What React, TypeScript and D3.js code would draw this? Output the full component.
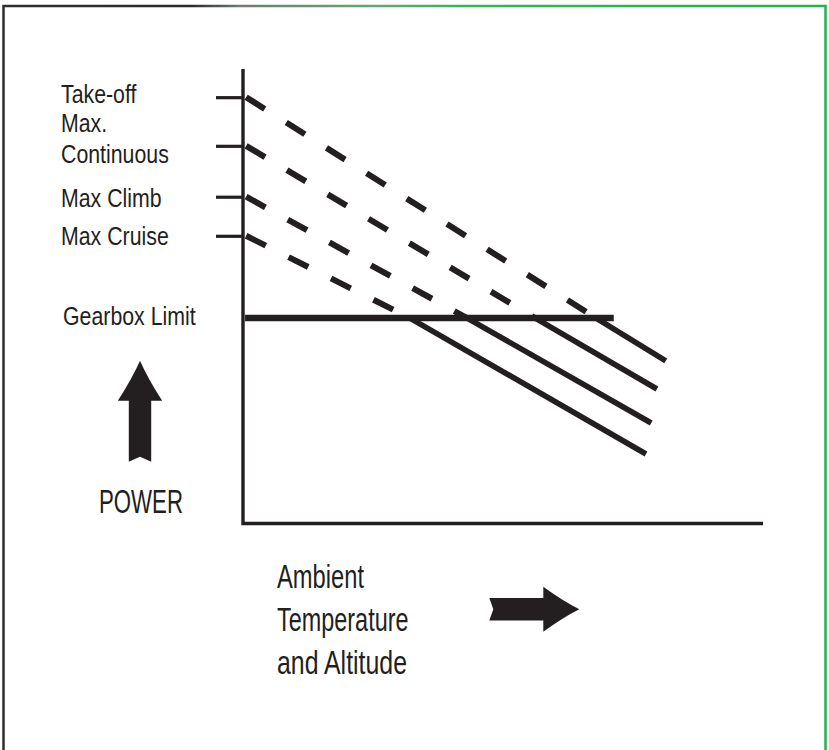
import React, { useEffect, useRef } from "react";
import * as d3 from "d3";

// ratings drawn against the power axis (x = ambient temp / altitude, y = power, both 0-100)
const ratings = ["Take-off", "Max. Continuous", "Max Climb", "Max Cruise"];
const ratingStartTemp = [0.6, 0.6, 0.6, 0.6];
const ratingStartPower = [93.8, 83.1, 71.9, 63.3];
// where each rating meets the gearbox limit
const ratingCrossTemp = [67.9, 56.2, 43.1, 32.1];
const ratingEndTemp = [81.3, 79.6, 78.5, 77.5];
const ratingEndPower = [35.8, 29.6, 22.1, 15.3];

const gearboxLabel = "Gearbox Limit";
const gearboxPower = 45.2;
const gearboxTemp = [0.4, 71.3];

const yTitle = "POWER";
const xTitle = ["Ambient", "Temperature", "and Altitude"];

const width = 829;
const height = 750;
const margin = { top: 69, right: 66, bottom: 226.5, left: 243 };
const ink = "#231f20";
// no narrow face installed, so Liberation Sans gets squeezed horizontally
const font = "'Liberation Sans', Arial, sans-serif";
const squeeze = 0.82;

// block arrow pointing to +x, tail at 0
function arrowPath(len: number, shaft: number, headW: number, headL: number, notch: number) {
    const p = d3.path();
    const base = len - headL;
    p.moveTo(0, -shaft / 2);
    p.lineTo(base, -shaft / 2);
    p.lineTo(base, -headW / 2);
    p.quadraticCurveTo(base + headL * 0.55, -headW * 0.18, len, 0);
    p.quadraticCurveTo(base + headL * 0.55, headW * 0.18, base, headW / 2);
    p.lineTo(base, shaft / 2);
    p.lineTo(0, shaft / 2);
    p.lineTo(notch, 0);
    p.closePath();
    return p.toString();
}

export default function App() {
    const svgRef = useRef<SVGSVGElement>(null);

    useEffect(() => {
        const svg = d3.select(svgRef.current);
        svg.selectAll("*").remove();

        const x = d3.scaleLinear().domain([0, 100]).range([margin.left, width - margin.right]);
        const y = d3.scaleLinear().domain([0, 100]).range([height - margin.bottom, margin.top]);

        // frame, dark on the left fading to green on the right
        const grad = svg.append("defs").append("linearGradient")
            .attr("id", "frameGrad")
            .attr("gradientUnits", "userSpaceOnUse")
            .attr("x1", 0).attr("x2", width).attr("y1", 0).attr("y2", 0);
        [[0, "#2e2e2e"], [0.23, "#2b2b2b"], [0.29, "#6f7b72"], [0.45, "#64a874"], [0.56, "#34b556"], [1, "#22b24c"]]
            .forEach(([o, c]) => grad.append("stop").attr("offset", o).attr("stop-color", c));

        svg.append("path")
            .attr("d", `M3.5,${height + 5} V6 H825.5 V${height + 5}`)
            .attr("fill", "none")
            .attr("stroke", "url(#frameGrad)")
            .attr("stroke-width", 2.5);

        const rows = ratings.map((name, i) => ({
            name,
            start: [ratingStartTemp[i], ratingStartPower[i]],
            cross: [ratingCrossTemp[i], gearboxPower],
            end: [ratingEndTemp[i], ratingEndPower[i]],
        }));
        const line = d3.line<number[]>().x(d => x(d[0])).y(d => y(d[1]));

        // axes
        svg.append("path")
            .attr("d", `M${x(0)},${y(100)} V${y(0)} H${x(100)}`)
            .attr("fill", "none")
            .attr("stroke", ink)
            .attr("stroke-width", 3.4)
            .attr("stroke-linejoin", "miter");

        svg.append("g")
            .attr("transform", `translate(${x(0) - 1},0)`)
            .call(d3.axisLeft(y).tickValues(ratingStartPower).tickSize(26).tickFormat(() => ""))
            .call(g => g.select(".domain").remove())
            .call(g => g.selectAll(".tick line").attr("stroke", ink).attr("stroke-width", 3.2));

        // thermodynamic limits above the gearbox limit
        svg.append("g")
            .selectAll("path")
            .data(rows)
            .join("path")
            .attr("d", d => line([d.start, d.cross]))
            .attr("fill", "none")
            .attr("stroke", ink)
            .attr("stroke-width", 6)
            .attr("stroke-dasharray", "22 25.5");

        // below the gearbox limit
        svg.append("g")
            .selectAll("path")
            .data(rows)
            .join("path")
            .attr("d", d => line([d.cross, d.end]))
            .attr("fill", "none")
            .attr("stroke", ink)
            .attr("stroke-width", 5.6);

        svg.append("path")
            .attr("d", line([[gearboxTemp[0], gearboxPower], [gearboxTemp[1], gearboxPower]]))
            .attr("stroke", ink)
            .attr("stroke-width", 6.4);

        // rating labels
        const labelShift = [6, 17.2, 10, 9.3];
        const labels = svg.append("g")
            .attr("font-family", font)
            .attr("font-size", 26)
            .attr("fill", ink);
        const addLabel = (t: string, lx: number, ly: number) =>
            labels.append("text")
                .attr("transform", `translate(${lx},${ly}) scale(${squeeze},1)`)
                .text(t);
        rows.forEach((d, i) => {
            const parts = d.name === "Max. Continuous" ? ["Max.", "Continuous"] : [d.name];
            const base = y(d.start[1]) + labelShift[i];
            parts.forEach((t, j) => addLabel(t, 61, base - (parts.length - 1 - j) * 30.6));
        });
        addLabel(gearboxLabel, 63, y(gearboxPower) + 7);

        // power arrow and title
        svg.append("path")
            .attr("transform", "translate(140,461.7) rotate(-90)")
            .attr("d", arrowPath(101, 22.4, 44.4, 40, 5))
            .attr("fill", ink);
        svg.append("text")
            .attr("x", 99)
            .attr("y", 512.7)
            .attr("font-family", font)
            .attr("font-size", 33)
            .attr("textLength", 84)
            .attr("lengthAdjust", "spacingAndGlyphs")
            .attr("fill", ink)
            .text(yTitle);

        // ambient temperature / altitude title and arrow
        const xLens = [87, 131.5, 130];
        svg.append("g")
            .attr("font-family", font)
            .attr("font-size", 32.5)
            .attr("fill", ink)
            .selectAll("text")
            .data(xTitle)
            .join("text")
            .attr("x", 277)
            .attr("y", (_, i) => 588.3 + i * 43)
            .attr("textLength", (_, i) => xLens[i])
            .attr("lengthAdjust", "spacingAndGlyphs")
            .text(d => d);

        svg.append("path")
            .attr("transform", "translate(489.3,609.3)")
            .attr("d", arrowPath(90, 22.4, 45, 36, 4))
            .attr("fill", ink);
    }, []);

    return (
        <svg
            ref={svgRef}
            width={width}
            height={height}
            style={{ position: "absolute", left: 0, top: 0, background: "#ffffff" }}
        />
    );
}
